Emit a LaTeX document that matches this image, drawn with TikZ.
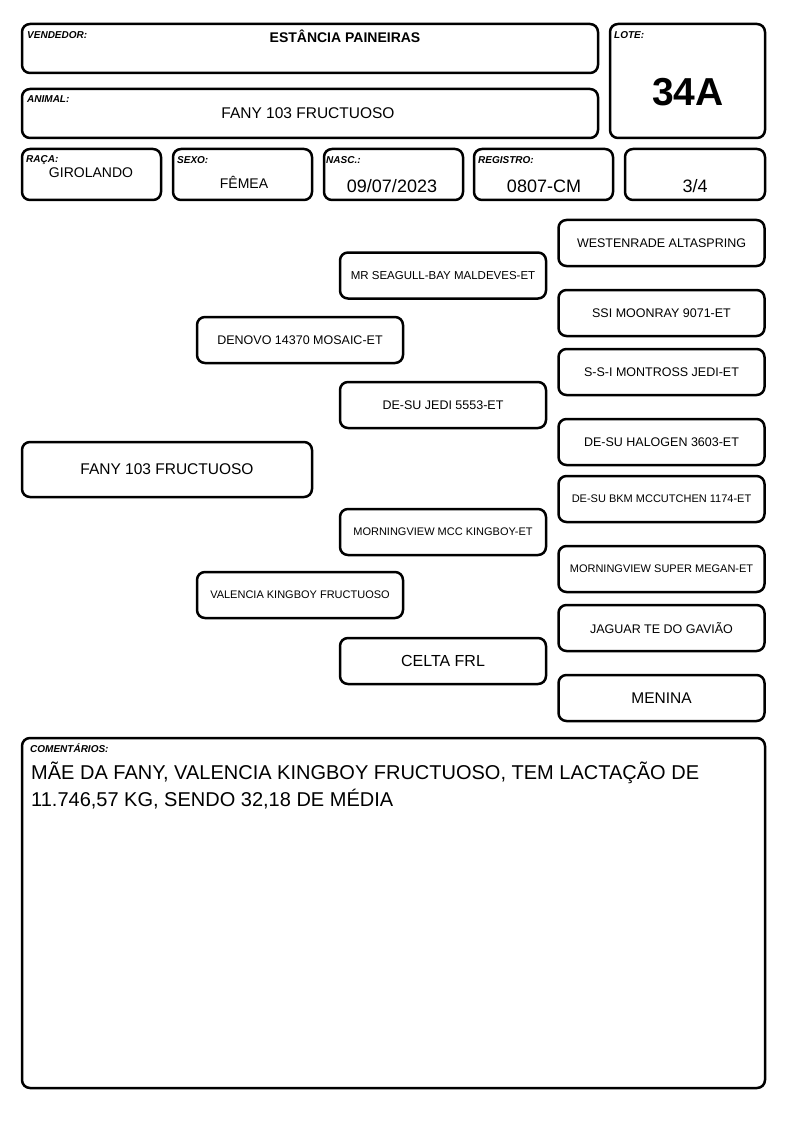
\documentclass[tikz,border=0pt]{standalone}
\usepackage{fontspec}
\setmainfont{Liberation Sans}
\newcommand{\fsz}[1]{\fontsize{#1}{#1}\selectfont}

\begin{document}
\begin{tikzpicture}[x=1pt,y=-1pt,
  box/.style={draw,line width=2.5pt,rounded corners=8pt,inner sep=0pt},
  pedbox/.style={box,minimum width=206,minimum height=46},
  lbl/.style={anchor=base west,inner sep=0pt,font=\bfseries\itshape\fsz{10}},
  val/.style={anchor=base,inner sep=0pt}]
\useasboundingbox (0,0) rectangle (794,1123);
% Header boxes
\node[box,minimum width=576,minimum height=49] (vendedor) at (310,48.5) {};
\node[box,minimum width=576,minimum height=49] (animal) at (310,113.5) {};
\node[box,minimum width=155,minimum height=114] (lote) at (687.5,81) {};
\node[lbl] (vendedorlbl) at (27,38.5) {VENDEDOR:};
\node[val,font=\bfseries\fsz{14}] (vendedorval) at (345,42.5) {ESTÂNCIA PAINEIRAS};
\node[lbl] (animallbl) at (27,103) {ANIMAL:};
\node[val,font=\fsz{15.5}] (animalval) at (308,119) {FANY 103 FRUCTUOSO};
\node[lbl] (lotelbl) at (614,38.5) {LOTE:};
\node[val,font=\bfseries\fsz{39}] (loteval) at (688,105.5) {34A};
% Second row
\node[box,minimum width=139,minimum height=51] (raca) at (91.5,174.5) {};
\node[box,minimum width=139,minimum height=51] (sexo) at (242.5,174.5) {};
\node[box,minimum width=139,minimum height=51] (nasc) at (393.5,174.5) {};
\node[box,minimum width=139,minimum height=51] (registro) at (543.5,174.5) {};
\node[box,minimum width=140,minimum height=51] (grau) at (695,174.5) {};
\node[lbl] (racalbl) at (26,162.5) {RAÇA:};
\node[val,font=\fsz{14}] (racaval) at (91,178) {GIROLANDO};
\node[lbl] (sexolbl) at (177,164) {SEXO:};
\node[val,font=\fsz{14}] (sexoval) at (244,189) {FÊMEA};
\node[lbl] (nasclbl) at (326,164) {NASC.:};
\node[val,font=\fsz{18}] (nascval) at (392,193) {09/07/2023};
\node[lbl] (registrolbl) at (478,164) {REGISTRO:};
\node[val,font=\fsz{18}] (registroval) at (544,193) {0807-CM};
\node[val,font=\fsz{18}] (grauval) at (695,193) {3/4};
% Pedigree: animal, parents, grandparents, great-grandparents
\node[box,minimum width=290,minimum height=55,font=\fsz{15.5}] (fany) at (167,469.5) {FANY 103 FRUCTUOSO};
\node[pedbox,font=\fsz{12.5}] (denovo) at (300,340) {DENOVO 14370 MOSAIC-ET};
\node[pedbox,font=\fsz{11}] (valencia) at (300,595) {VALENCIA KINGBOY FRUCTUOSO};
\node[pedbox,font=\fsz{11.5}] (seagull) at (443,275.5) {MR SEAGULL-BAY MALDEVES-ET};
\node[pedbox,font=\fsz{12.5}] (jedi) at (443,405) {DE-SU JEDI 5553-ET};
\node[pedbox,font=\fsz{11}] (kingboy) at (443,532) {MORNINGVIEW MCC KINGBOY-ET};
\node[pedbox,font=\fsz{16}] (celta) at (443,661) {CELTA FRL};
\node[pedbox,font=\fsz{12.5}] (westenrade) at (661.5,243) {WESTENRADE ALTASPRING};
\node[pedbox,font=\fsz{12.5}] (moonray) at (661.5,313) {SSI MOONRAY 9071-ET};
\node[pedbox,font=\fsz{12.5}] (montross) at (661.5,372) {S-S-I MONTROSS JEDI-ET};
\node[pedbox,font=\fsz{12.5}] (halogen) at (661.5,442) {DE-SU HALOGEN 3603-ET};
\node[pedbox,font=\fsz{11}] (mccutchen) at (661.5,499) {DE-SU BKM MCCUTCHEN 1174-ET};
\node[pedbox,font=\fsz{11}] (megan) at (661.5,569) {MORNINGVIEW SUPER MEGAN-ET};
\node[pedbox,font=\fsz{12.5}] (jaguar) at (661.5,628) {JAGUAR TE DO GAVIÃO};
\node[pedbox,font=\fsz{15.5}] (menina) at (661.5,698) {MENINA};
% Comments
\node[box,minimum width=743,minimum height=350] (comentarios) at (393.5,913) {};
\node[lbl] (comentarioslbl) at (30,752) {COMENTÁRIOS:};
\node[anchor=base west,inner sep=0pt,align=left,font=\fsz{20}] (comentariosval) at (31,806)
  {MÃE DA FANY, VALENCIA KINGBOY FRUCTUOSO, TEM LACTAÇÃO DE\\[4pt]11.746,57 KG, SENDO 32,18 DE MÉDIA};
\end{tikzpicture}
\end{document}
